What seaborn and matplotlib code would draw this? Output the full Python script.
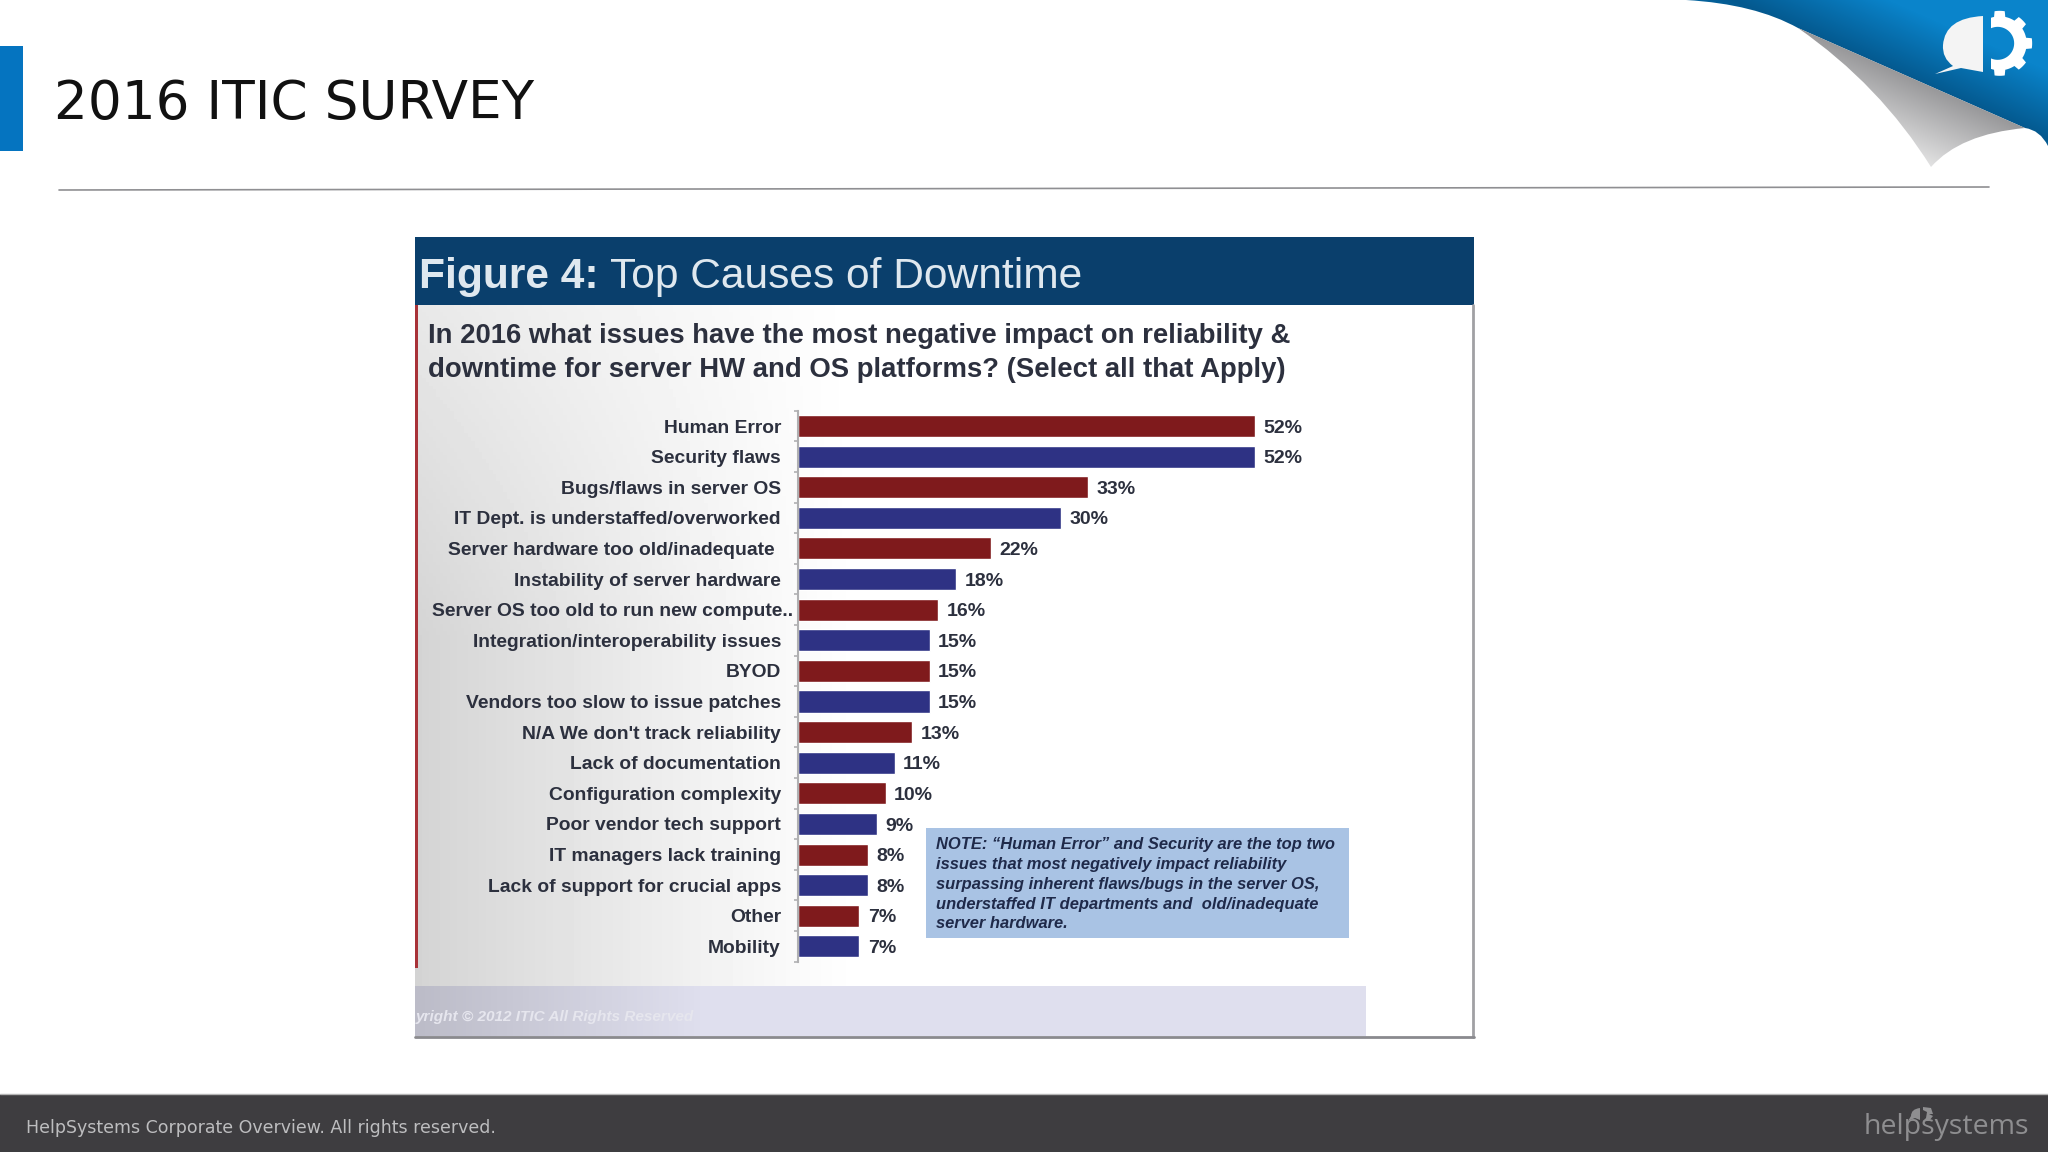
import numpy as np
import pandas as pd
import matplotlib
matplotlib.use("Agg")
import matplotlib.pyplot as plt
import matplotlib.transforms as mtransforms
from matplotlib.patches import PathPatch, Rectangle
from matplotlib.path import Path
import seaborn as sns

# chart values
causes = [
    "Human Error", "Security flaws", "Bugs/flaws in server OS",
    "IT Dept. is understaffed/overworked", "Server hardware too old/inadequate",
    "Instability of server hardware", "Server OS too old to run new compute..",
    "Integration/interoperability issues", "BYOD", "Vendors too slow to issue patches",
    "N/A We don't track reliability", "Lack of documentation",
    "Configuration complexity", "Poor vendor tech support",
    "IT managers lack training", "Lack of support for crucial apps", "Other", "Mobility",
]
percent = [52, 52, 33, 30, 22, 18, 16, 15, 15, 15, 13, 11, 10, 9, 8, 8, 7, 7]
note_lines = [
    "NOTE: \u201cHuman Error\u201d and Security are the top two",
    "issues that most negatively impact reliability",
    "surpassing inherent flaws/bugs in the server OS,",
    "understaffed IT departments and  old/inadequate",
    "server hardware.",
]
question_lines = [
    "In 2016 what issues have the most negative impact on reliability &",
    "downtime for server HW and OS platforms? (Select all that Apply)",
]

RED = "#7f1a1c"
BLUE = "#2e3284"
INK = "#2c303e"
W, H = 2048, 1152

sns.set_theme(style="white")
plt.rcParams["font.family"] = ["Liberation Sans", "DejaVu Sans"]

fig = plt.figure(figsize=(20.48, 11.52), dpi=100, facecolor="white")

# --- slide furniture, drawn in pixel coordinates ---
bg = fig.add_axes([0, 0, 1, 1], zorder=0)
bg.set_xlim(0, W)
bg.set_ylim(H, 0)
bg.axis("off")


def lerp_rgb(c0, c1, t):
    c0 = np.array(matplotlib.colors.to_rgb(c0))
    c1 = np.array(matplotlib.colors.to_rgb(c1))
    return c0 + (c1 - c0) * t[..., None]


def gradient_patch(verts, codes, extent, c0, c1, reach):
    # colour runs away from the page-curl edge, clipped to the given shape
    x0, x1, y0, y1 = extent
    xx, yy = np.meshgrid(np.arange(x0, x1), np.arange(y0, y1))
    dx, dy = 2025 - 1798, 128 - 28
    n = np.hypot(dx, dy)
    dist = np.abs((xx - 1798) * dy - (yy - 28) * dx) / n
    img = lerp_rgb(c0, c1, np.clip(dist / reach, 0, 1))
    im = bg.imshow(img, extent=(x0, x1, y1, y0), aspect="auto", zorder=1, interpolation="bilinear")
    patch = PathPatch(Path(verts, codes), transform=bg.transData, fc="none", ec="none")
    bg.add_patch(patch)
    im.set_clip_path(patch)


M, L, C = Path.MOVETO, Path.LINETO, Path.CURVE3
gradient_patch(
    [(1686, 0), (1755, 4), (1798, 28), (2025, 128), (2040, 130), (2048, 146), (2048, 0), (1686, 0)],
    [M, C, C, L, C, C, L, L],
    (1680, W, 0, 150), "#04598f", "#0a84cb", 62,
)
gradient_patch(
    [(1798, 28), (2025, 128), (1960, 134), (1931, 167), (1880, 85), (1798, 28)],
    [M, L, C, C, C, C],
    (1790, 2030, 20, 170), "#98989a", "#f2f2f2", 88,
)

# speech bubble and half gear of the logo
bubble = Path(
    [(1983, 16), (1945, 18), (1943, 45), (1942, 58), (1953, 66), (1935, 74), (1961, 68), (1983, 72), (1983, 16)],
    [M, C, C, C, C, L, L, L, L],
)
bg.add_patch(PathPatch(bubble, fc="#f4f4f4", ec="none", zorder=3))

theta = np.radians(np.arange(-120, 121, 3))
tooth = np.cos(theta * 8) > 0.2
radius = np.where(tooth, 32.5, 27)
gx, gy = 1648 + 1055 / 3, 130 / 3
outer = np.column_stack([gx + radius * np.cos(theta), gy + radius * np.sin(theta)])
hole_t = np.radians(np.arange(120, -121, -6))
hole = np.column_stack([gx - 2 + 16.5 * np.cos(hole_t), gy + 16.5 * np.sin(hole_t)])
gear_pts = np.vstack([outer, hole])
gear = bg.fill(gear_pts[:, 0], gear_pts[:, 1], color="white", lw=0, zorder=3)[0]
gear.set_clip_path(Rectangle((1991, 0), 60, 100, transform=bg.transData))

bg.add_patch(Rectangle((0, 46), 23, 105, fc="#0574c0", ec="none"))
bg.text(54, 104, "2016 ITIC SURVEY", fontsize=38.3, family="DejaVu Sans", color="#111111", va="center")
bg.plot([59, 1989], [190, 187], color="#8f8f92", lw=1.2)

bg.add_patch(Rectangle((0, 1094), W, 58, fc="#3e3d40", ec="none"))
bg.plot([0, W], [1093.5, 1093.5], color="#b5b5b5", lw=1)
bg.text(26, 1128, "HelpSystems Corporate Overview. All rights reserved.", fontsize=12.5,
        family="DejaVu Sans", color="#bdbdbf", va="center")
bg.text(2029, 1127, "helpsystems", fontsize=20.5, family="Open Sans", color="#8e8e90",
        ha="right", va="center")
small = Path(
    [(1920, 1108), (1911, 1109), (1911, 1116), (1908, 1121), (1915, 1118), (1920, 1120), (1920, 1108)],
    [M, C, C, L, L, L, L],
)
bg.add_patch(PathPatch(small, fc="#8e8e90", ec="none", zorder=3))
bg.fill([1923, 1931, 1933, 1929, 1933, 1929, 1923, 1926, 1927, 1923],
        [1107, 1108, 1114, 1114, 1116, 1121, 1121, 1118, 1112, 1110], color="#8e8e90", lw=0, zorder=3)

# --- the pasted figure panel ---
px0, px1, py0, py1 = 415, 1474, 305, 1038
xx, yy = np.meshgrid(np.linspace(0, 1, 300), np.linspace(0, 1, 200))
fade = np.clip(1 - xx / 0.42, 0, 1) ** 1.1
shade = 1 - fade * (0.09 + 0.08 * np.clip(yy * 2.2, 0, 1))
bg.imshow(shade, extent=(px0, px1, py1, py0), cmap="gray", vmin=0, vmax=1, aspect="auto", zorder=1)
bg.set_xlim(0, W)
bg.set_ylim(H, 0)

bg.add_patch(Rectangle((px0, 237), px1 - px0, 68, fc="#0a3f6c", ec="none", zorder=2))
bg.add_patch(Rectangle((px0, 305), 3, 663, fc="#a83238", ec="none", zorder=2))
bg.plot([px1 - 1, px1 - 1], [305, 1037], color="#a0a0a4", lw=2, zorder=2)
bg.plot([px0, px1], [1037, 1037], color="#8a8a8e", lw=2, zorder=3)

band = np.linspace(0, 1, 300)[None, :]
band_rgb = lerp_rgb("#bcbcc8", "#dfdfee", np.clip(band / 0.3, 0, 1))
bg.imshow(band_rgb, extent=(px0, 1366, 1036, 986), aspect="auto", zorder=2)
bg.set_xlim(0, W)
bg.set_ylim(H, 0)
bg.text(px0 + 1, 1017, "yright \u00a9 2012 ITIC All Rights Reserved", fontsize=11.1, weight="bold",
        style="italic", color="#e6e6ee", va="center", zorder=3)

head = bg.text(419, 277, "Figure 4:", fontsize=30.6, weight="bold", color="#dfe8ef", va="center", zorder=3)
bg.annotate(" Top Causes of Downtime", xy=(1, 0), xycoords=head, fontsize=30.6, color="#dfe8ef",
            va="bottom", zorder=3)
for y, line in zip([336, 370], question_lines):
    bg.text(428, y, line, fontsize=19.85, weight="bold", color=INK, va="center", zorder=3)

bg.add_patch(Rectangle((926, 828), 423, 110, fc="#a9c3e4", ec="none", zorder=2))
for y, line in zip([844, 864, 885, 904, 924], note_lines):
    bg.text(936, y, line, fontsize=11.9, weight="bold", style="italic", color="#1f2a4a", va="center", zorder=3)

# --- the bars ---
df = pd.DataFrame({"cause": causes, "percent": percent})
colors = [RED if i % 2 == 0 else BLUE for i in range(len(causes))]

left, top, width, height = 798, 410.7, 878, 551
ax = fig.add_axes([left / W, 1 - (top + height) / H, width / W, height / H], zorder=1)
ax.patch.set_alpha(0)
sns.barplot(data=df, y="cause", x="percent", hue="cause", palette=colors, legend=False,
            width=0.72, saturation=1, ax=ax)
ax.set_xlim(0, 100)
ax.set_ylim(17.5, -0.5)
ax.set_xlabel("")
ax.set_ylabel("")
ax.xaxis.set_visible(False)
sns.despine(ax=ax, top=True, right=True, bottom=True)
ax.spines["left"].set_color("#b0b0b2")
ax.spines["left"].set_linewidth(1.5)

ax.tick_params(axis="y", length=0, pad=12.3, labelsize=13.9, labelcolor=INK)
for lab in ax.get_yticklabels():
    lab.set_fontweight("bold")
    # two labels sit off the common right edge in the original
    shift = {"Server OS too old to run new compute..": 12, "Server hardware too old/inadequate": -6}.get(lab.get_text(), 0)
    if shift:
        lab.set_transform(mtransforms.offset_copy(lab.get_transform(), fig=fig, x=shift, y=0, units="dots"))

ax.set_yticks(np.arange(-0.5, 18, 1), minor=True)
ax.tick_params(axis="y", which="minor", length=3, width=1.2, color="#b0b0b2", left=True)

for cont in ax.containers:
    for txt in ax.bar_label(cont, fmt="%g%%", padding=6, fontsize=14, fontweight="bold", color=INK):
        txt.xyann = (txt.xyann[0], -1.5)

plt.savefig("out.png", dpi=100)
